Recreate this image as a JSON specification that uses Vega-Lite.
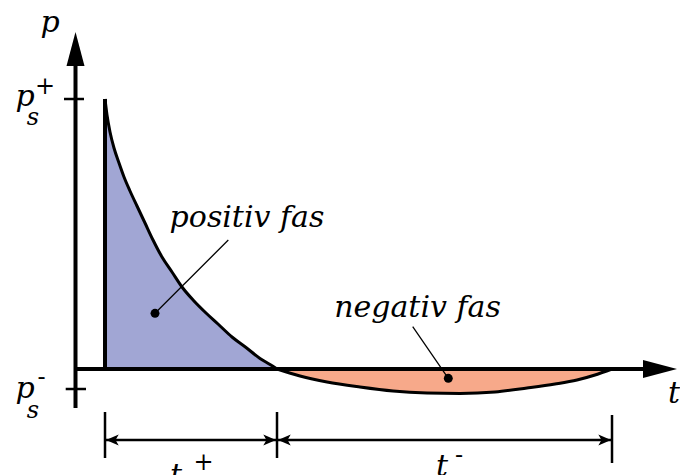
{
  "$schema": "https://vega.github.io/schema/vega-lite/v6.json",
  "width": 680,
  "height": 475,
  "autosize": {"type": "none"},
  "padding": 0,
  "background": "white",
  "config": {"view": {"stroke": null}},
  "datasets": {
    "curve": [
      {"t": 0, "p": 1.0, "phase": "positiv"},
      {"t": 0.0116, "p": 0.9407, "phase": "positiv"},
      {"t": 0.0291, "p": 0.8778, "phase": "positiv"},
      {"t": 0.0523, "p": 0.8185, "phase": "positiv"},
      {"t": 0.0814, "p": 0.763, "phase": "positiv"},
      {"t": 0.1105, "p": 0.7111, "phase": "positiv"},
      {"t": 0.1453, "p": 0.6593, "phase": "positiv"},
      {"t": 0.186, "p": 0.6037, "phase": "positiv"},
      {"t": 0.2326, "p": 0.5407, "phase": "positiv"},
      {"t": 0.2791, "p": 0.4778, "phase": "positiv"},
      {"t": 0.3314, "p": 0.4148, "phase": "positiv"},
      {"t": 0.3895, "p": 0.3593, "phase": "positiv"},
      {"t": 0.4477, "p": 0.3037, "phase": "positiv"},
      {"t": 0.5174, "p": 0.2519, "phase": "positiv"},
      {"t": 0.5872, "p": 0.2074, "phase": "positiv"},
      {"t": 0.657, "p": 0.1667, "phase": "positiv"},
      {"t": 0.7384, "p": 0.1185, "phase": "positiv"},
      {"t": 0.8198, "p": 0.0796, "phase": "positiv"},
      {"t": 0.9012, "p": 0.0389, "phase": "positiv"},
      {"t": 0.9593, "p": 0.0167, "phase": "positiv"},
      {"t": 1.0, "p": 0, "phase": "positiv"},
      {"t": 1.0, "p": 0, "phase": "negativ"},
      {"t": 1.1337, "p": -0.0259, "phase": "negativ"},
      {"t": 1.2907, "p": -0.0481, "phase": "negativ"},
      {"t": 1.4826, "p": -0.0667, "phase": "negativ"},
      {"t": 1.6744, "p": -0.0815, "phase": "negativ"},
      {"t": 1.8721, "p": -0.0889, "phase": "negativ"},
      {"t": 2.064, "p": -0.0907, "phase": "negativ"},
      {"t": 2.2674, "p": -0.0852, "phase": "negativ"},
      {"t": 2.4535, "p": -0.0704, "phase": "negativ"},
      {"t": 2.6163, "p": -0.0556, "phase": "negativ"},
      {"t": 2.7442, "p": -0.0407, "phase": "negativ"},
      {"t": 2.8488, "p": -0.0222, "phase": "negativ"},
      {"t": 2.9477, "p": 0, "phase": "negativ"}
    ],
    "segments": [
      {"role": "axis", "t": -0.1715, "p": -0.1444, "t2": -0.1715, "p2": 1.1444},
      {"role": "axis", "t": -0.1744, "p": 0, "t2": 3.14, "p2": 0},
      {"role": "axis", "t": 0, "p": 0, "t2": 0, "p2": 1.0},
      {"role": "tick", "t": -0.2384, "p": 1.0, "t2": -0.1221, "p2": 1.0},
      {"role": "tick", "t": -0.2285, "p": -0.0741, "t2": -0.1105, "p2": -0.0741},
      {"role": "tick", "t": 0, "p": -0.1593, "t2": 0, "p2": -0.3296},
      {"role": "tick", "t": 1.0, "p": -0.1593, "t2": 1.0, "p2": -0.3296},
      {"role": "tick", "t": 2.9477, "p": -0.1704, "t2": 2.9477, "p2": -0.3481},
      {"role": "tick", "t": 0, "p": -0.263, "t2": 1.0, "p2": -0.263},
      {"role": "tick", "t": 1.0, "p": -0.263, "t2": 2.9477, "p2": -0.263},
      {"role": "leader", "t": 0.7169, "p": 0.4778, "t2": 0.2907, "p2": 0.2063},
      {"role": "leader", "t": 1.789, "p": 0.1567, "t2": 1.9959, "p2": -0.0344}
    ],
    "arrows": [
      {"kind": "axis", "dir": "up", "t": -0.1715, "p": 1.2481},
      {"kind": "axis", "dir": "right", "t": 3.3256, "p": 0},
      {"kind": "dim", "dir": "left", "t": 0.006, "p": -0.263},
      {"kind": "dim", "dir": "right", "t": 0.994, "p": -0.263},
      {"kind": "dim", "dir": "left", "t": 1.006, "p": -0.263},
      {"kind": "dim", "dir": "right", "t": 2.9419, "p": -0.263}
    ],
    "dots": [
      {"t": 0.2907, "p": 0.2063},
      {"t": 1.9959, "p": -0.0344}
    ],
    "labels": [
      {"style": "big", "text": "p", "t": -0.3198, "p": 1.2481},
      {"style": "big", "text": "p", "t": -0.4651, "p": 0.9741},
      {"style": "sub", "text": "s", "t": -0.4186, "p": 0.9037},
      {"style": "sup", "text": "+", "t": -0.3488, "p": 1.0185},
      {"style": "big", "text": "p", "t": -0.4651, "p": -0.1074},
      {"style": "sub", "text": "s", "t": -0.4186, "p": -0.1815},
      {"style": "sup", "text": "-", "t": -0.3692, "p": -0.0611},
      {"style": "big", "text": "t", "t": 3.3081, "p": -0.1259},
      {"style": "big", "text": "t", "t": 0.4128, "p": -0.4296},
      {"style": "sup", "text": "+", "t": 0.5727, "p": -0.3741},
      {"style": "big", "text": "t", "t": 1.9593, "p": -0.3963},
      {"style": "sup", "text": "-", "t": 2.0581, "p": -0.3481},
      {"style": "big", "text": "positiv fas", "t": 0.8256, "p": 0.5259},
      {"style": "big", "text": "negativ fas", "t": 1.8169, "p": 0.1926}
    ]
  },
  "encoding": {
    "x": {"field": "t", "type": "quantitative", "scale": {"domain": [-0.6105, 3.343], "nice": false, "zero": false}, "axis": null},
    "y": {"field": "p", "type": "quantitative", "scale": {"domain": [-0.3926, 1.3667], "nice": false, "zero": false}, "axis": null}
  },
  "layer": [
    {
      "data": {"name": "curve"},
      "mark": {"type": "area", "opacity": 1, "interpolate": "monotone"},
      "encoding": {
        "y2": {"datum": 0},
        "color": {"field": "phase", "type": "nominal", "scale": {"domain": ["positiv", "negativ"], "range": ["#A1A6D4", "#F7A98A"]}, "legend": null}
      }
    },
    {
      "data": {"name": "segments"},
      "transform": [{"filter": "datum.role === 'axis'"}],
      "mark": {"type": "rule", "color": "black", "strokeWidth": 4},
      "encoding": {"x2": {"field": "t2"}, "y2": {"field": "p2"}}
    },
    {
      "data": {"name": "curve"},
      "mark": {"type": "line", "color": "black", "strokeWidth": 3, "interpolate": "monotone"},
      "encoding": {"detail": {"field": "phase", "type": "nominal"}}
    },
    {
      "data": {"name": "segments"},
      "transform": [{"filter": "datum.role === 'tick'"}],
      "mark": {"type": "rule", "color": "black", "strokeWidth": 2.5},
      "encoding": {"x2": {"field": "t2"}, "y2": {"field": "p2"}}
    },
    {
      "data": {"name": "segments"},
      "transform": [{"filter": "datum.role === 'leader'"}],
      "mark": {"type": "rule", "color": "black", "strokeWidth": 1.3},
      "encoding": {"x2": {"field": "t2"}, "y2": {"field": "p2"}}
    },
    {
      "data": {"name": "arrows"},
      "transform": [{"filter": "datum.kind === 'axis'"}],
      "mark": {"type": "point", "filled": true, "color": "black", "opacity": 1, "strokeWidth": 0, "size": 1156},
      "encoding": {
        "shape": {"field": "dir", "type": "nominal", "scale": {"domain": ["up", "right"], "range": ["M0,0L-0.53,2L0.53,2Z", "M0,0L-2,-0.53L-2,0.53Z"]}, "legend": null}
      }
    },
    {
      "data": {"name": "arrows"},
      "transform": [{"filter": "datum.kind === 'dim'"}],
      "mark": {"type": "point", "shape": "M0,0L2,-0.85L1.5,0L2,0.85Z", "filled": true, "color": "black", "opacity": 1, "strokeWidth": 0, "size": 161},
      "encoding": {
        "angle": {"field": "dir", "type": "nominal", "scale": {"domain": ["left", "right"], "range": [0, 180]}, "legend": null}
      }
    },
    {
      "data": {"name": "dots"},
      "mark": {"type": "point", "shape": "circle", "filled": true, "color": "black", "opacity": 1, "size": 80}
    },
    {
      "data": {"name": "labels"},
      "transform": [{"filter": "datum.style === 'big'"}],
      "mark": {"type": "text", "font": "DejaVu Serif", "fontStyle": "italic", "fontSize": 30, "align": "center", "baseline": "alphabetic", "color": "black"},
      "encoding": {"text": {"field": "text"}}
    },
    {
      "data": {"name": "labels"},
      "transform": [{"filter": "datum.style === 'sub'"}],
      "mark": {"type": "text", "font": "DejaVu Serif", "fontStyle": "italic", "fontSize": 24, "align": "center", "baseline": "alphabetic", "color": "black"},
      "encoding": {"text": {"field": "text"}}
    },
    {
      "data": {"name": "labels"},
      "transform": [{"filter": "datum.style === 'sup'"}],
      "mark": {"type": "text", "font": "DejaVu Serif", "fontSize": 24, "align": "center", "baseline": "alphabetic", "color": "black"},
      "encoding": {"text": {"field": "text"}}
    }
  ]
}
